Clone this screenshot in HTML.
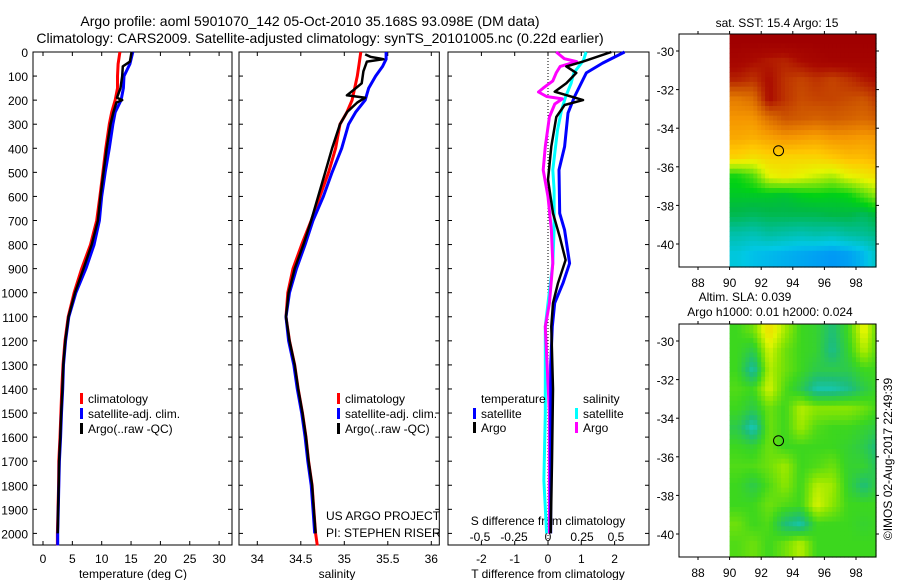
<!DOCTYPE html>
<html><head><meta charset="utf-8"><style>
body{margin:0;background:#fff;width:900px;height:580px;overflow:hidden}
svg{display:block;font-family:"Liberation Sans",sans-serif}
text{font-size:12px;fill:#000}
</style></head><body>
<svg id="chart" width="900" height="580" viewBox="0 0 900 580" xmlns="http://www.w3.org/2000/svg">
<text x="310" y="26" text-anchor="middle" style="font-size:14px">Argo profile: aoml 5901070_142 05-Oct-2010 35.168S 93.098E (DM data)</text>
<text x="320" y="43" text-anchor="middle" style="font-size:14px">Climatology: CARS2009. Satellite-adjusted climatology: synTS_20101005.nc (0.22d earlier)</text>
<g id="g"></g>
</svg>
<script>
// ---------- data ----------
const depthTicks=[0,100,200,300,400,500,600,700,800,900,1000,1100,1200,1300,1400,1500,1600,1700,1800,1900,2000];
const tempTicks=[0,5,10,15,20,25,30];
const salTicks=[34,34.5,35,35.5,36];
const tdiffTicks=[-2,-1,0,1,2];
const sdiffTicks=[-0.5,-0.25,0,0.25,0.5];
const sdiffTickLabels=["-0.5","-0.25","0","0.25","0.5"];

const tClimDepth=[0,50,100,150,200,250,300,400,500,600,700,800,900,1000,1100,1200,1300,1400,1500,1600,1700,1800,1900,2000,2050];
const tClim=[13.1,12.8,12.7,12.7,12.3,11.7,11.3,10.7,10.2,9.7,9.15,8.1,6.6,5.3,4.3,3.75,3.4,3.2,3.05,2.9,2.7,2.65,2.55,2.45,2.45];
const tSatDepth=[0,50,100,150,200,250,300,400,500,600,700,800,900,1000,1100,1200,1300,1400,1500,1600,1700,1800,1900,2000,2050];
const tSat=[15.3,14.8,13.8,13.7,13.3,12.3,11.9,11.3,10.6,10.0,9.6,8.7,7.3,5.6,4.4,3.85,3.5,3.35,3.15,3.0,2.8,2.7,2.6,2.5,2.5];
const tArgoDepth=[0,40,60,100,150,190,200,210,250,300,400,500,600,700,800,900,1000,1100,1200,1300,1400,1500,1600,1700,1800,1900,2000];
const tArgo=[15.1,14.8,13.6,13.5,13.2,12.6,13.5,12.5,12.0,11.5,10.85,10.3,9.8,9.35,8.3,6.9,5.45,4.35,3.8,3.45,3.3,3.1,2.95,2.75,2.68,2.58,2.5];

const sClimDepth=[0,50,100,150,200,250,300,400,500,600,700,800,900,1000,1100,1200,1300,1400,1500,1600,1700,1800,1900,2000,2050];
const sClim=[35.19,35.17,35.15,35.12,35.09,35.03,34.95,34.9,34.82,34.72,34.62,34.51,34.41,34.35,34.33,34.37,34.43,34.47,34.52,34.56,34.59,34.63,34.65,34.67,34.69];
const sSatDepth=[0,30,60,100,150,200,250,300,400,500,600,700,800,900,1000,1100,1200,1300,1400,1500,1600,1700,1800,1900,2000];
const sSat=[35.48,35.48,35.44,35.36,35.28,35.24,35.13,35.05,34.97,34.86,34.76,34.64,34.55,34.45,34.37,34.33,34.36,34.42,34.46,34.51,34.55,34.58,34.62,34.64,34.66];
const sArgoDepth=[10,20,30,40,80,130,160,180,190,210,250,300,400,500,600,700,800,900,1000,1100,1200,1300,1400,1500,1600,1700,1800,1900,2000];
const sArgo=[35.24,35.3,35.45,35.26,35.22,35.2,35.1,35.03,35.24,35.15,35.03,34.95,34.86,34.78,34.7,34.62,34.53,34.43,34.36,34.33,34.37,34.43,34.47,34.52,34.56,34.59,34.63,34.65,34.67];

const dTSatDepth=[0,46,87,185,254,393,490,670,740,878,960,1043,1141,1300,1600,2000];
const dTSat=[2.3,1.64,1.15,0.8,0.6,0.5,0.33,0.35,0.5,0.65,0.45,0.2,0.13,0.08,0.08,0.08];
const dTArgoDepth=[0,40,60,87,130,165,200,220,270,393,530,670,767,864,960,1043,1141,1400,1700,2000];
const dTArgo=[1.9,1.05,0.55,0.85,0.55,0.2,1.05,0.5,0.25,0.1,0,0.15,0.35,0.53,0.3,0.15,0.1,0.15,0.12,0.08];
const dSSatDepth=[0,35,87,130,185,240,325,490,573,740,878,1043,1141,1500,1780,2000];
const dSSat=[0.28,0.26,0.19,0.17,0.13,0.1,0.07,0.035,0.045,0.045,0.035,0,-0.02,-0.02,-0.03,-0.01];
const dSArgoDepth=[0,28,40,60,87,120,150,166,185,195,216,270,393,490,601,740,878,1043,1141,1500,2000];
const dSArgo=[0.06,0.12,0.21,0.09,0.06,0.035,-0.035,-0.07,-0.01,0.105,0.05,0.01,-0.02,-0.035,0,0.025,0.035,0.01,-0.02,0.01,0.01];

const mapLatTicks=[-30,-32,-34,-36,-38,-40];
const mapLonTicks=[88,90,92,94,96,98];
const gridLats=[-29,-30,-31,-32,-33,-34,-35,-36,-37,-38,-39,-40];
const gridLons=[90,91,92,93,94,95,96,97,98,99];
const sstGrid=[
[1,1,1,1,1,1,1,1,1,1],
[0.97,0.95,0.93,0.92,0.95,0.97,0.98,0.98,0.98,0.98],
[0.92,0.9,0.95,0.9,0.88,0.9,0.88,0.9,0.93,0.95],
[0.8,0.82,0.95,0.9,0.87,0.88,0.88,0.87,0.86,0.9],
[0.76,0.76,0.82,0.86,0.85,0.84,0.85,0.84,0.83,0.85],
[0.73,0.72,0.74,0.76,0.75,0.74,0.76,0.76,0.75,0.76],
[0.66,0.64,0.66,0.66,0.66,0.66,0.68,0.7,0.7,0.72],
[0.46,0.5,0.6,0.62,0.6,0.58,0.56,0.6,0.62,0.64],
[0.43,0.43,0.43,0.42,0.44,0.45,0.44,0.45,0.5,0.55],
[0.39,0.38,0.39,0.39,0.39,0.39,0.4,0.4,0.38,0.42],
[0.31,0.3,0.32,0.31,0.3,0.31,0.3,0.32,0.33,0.35],
[0.26,0.24,0.23,0.22,0.21,0.2,0.19,0.2,0.23,0.3]];
const slaGrid=[
[0.5,0.55,0.72,0.6,0.5,0.48,0.4,0.5,0.68,0.5],
[0.5,0.45,0.65,0.55,0.5,0.48,0.38,0.48,0.62,0.5],
[0.5,0.35,0.62,0.55,0.5,0.45,0.45,0.45,0.5,0.5],
[0.52,0.5,0.65,0.52,0.45,0.35,0.35,0.38,0.45,0.5],
[0.5,0.45,0.55,0.5,0.62,0.58,0.58,0.58,0.55,0.5],
[0.45,0.33,0.55,0.5,0.6,0.52,0.5,0.5,0.48,0.45],
[0.5,0.48,0.55,0.5,0.5,0.5,0.5,0.48,0.45,0.38],
[0.52,0.52,0.55,0.6,0.5,0.52,0.55,0.48,0.48,0.42],
[0.5,0.45,0.52,0.58,0.5,0.62,0.6,0.48,0.4,0.48],
[0.5,0.5,0.55,0.52,0.5,0.65,0.58,0.5,0.5,0.5],
[0.55,0.5,0.52,0.4,0.35,0.5,0.5,0.5,0.48,0.5],
[0.52,0.55,0.5,0.55,0.62,0.5,0.5,0.5,0.5,0.5]];
const argoLon=93.098, argoLat=-35.168;

// ---------- helpers ----------
const NS="http://www.w3.org/2000/svg";
const G=document.getElementById('g');
function mk(tag,attrs,parent){const e=document.createElementNS(NS,tag);for(const k in attrs)e.setAttribute(k,attrs[k]);(parent||G).appendChild(e);return e;}
function txt(x,y,s,anchor,parent){const t=mk('text',{x:x,y:y,'text-anchor':anchor||'start'},parent);t.textContent=s;return t;}
const yTop=52, yPer=0.2407;
const yD=d=>yTop+d*yPer;
const xT=v=>43+5.87*v;
const xS=v=>257.3+87*(v-34);
const xDT=v=>548+33.3*v;
const xDS=v=>548+136*v;

function panel(x0,x1,name){
  const r=mk('rect',{x:x0,y:yTop,width:x1-x0,height:545-yTop,fill:'none',stroke:'#000','stroke-width':1});
  
  
  depthTicks.forEach(d=>{mk('line',{x1:x0,x2:x0+4,y1:yD(d),y2:yD(d),stroke:'#000'});mk('line',{x1:x1,x2:x1-4,y1:yD(d),y2:yD(d),stroke:'#000'});});
}
function line(xs,ds,fx,color,name,w){
  const pts=xs.map((v,i)=>fx(v).toFixed(1)+','+yD(ds[i]).toFixed(1)).join(' ');
  const p=mk('polyline',{points:pts,fill:'none',stroke:color,'stroke-width':w||3,'stroke-linejoin':'round'});
  
  
}
function legendEntry(x,y,color,label,name){
  const g=mk('g',{});
  
  
  mk('rect',{x:x,y:y-10,width:3,height:11,fill:color},g);
  txt(x+8,y,label,'start',g);
}

depthTicks.forEach(d=>{const t=txt(28,yD(d)+5,String(d),'end');});

// panel 1
panel(33,232,'temperature-panel');
tempTicks.forEach(v=>{mk('line',{x1:xT(v),x2:xT(v),y1:545,y2:541,stroke:'#000'});mk('line',{x1:xT(v),x2:xT(v),y1:yTop,y2:yTop+4,stroke:'#000'});const t=txt(xT(v),563,String(v),'middle');});
txt(133,578,'temperature (deg C)','middle');
line(tClim,tClimDepth,xT,'#f00','temp-climatology-line');
line(tSat,tSatDepth,xT,'#00f','temp-satellite-line');
line(tArgo,tArgoDepth,xT,'#000','temp-argo-line',2.5);
legendEntry(80,403,'#f00','climatology','temp-legend-climatology');
legendEntry(80,418,'#00f','satellite-adj. clim.','temp-legend-satellite');
legendEntry(80,433,'#000','Argo(..raw -QC)','temp-legend-argo');

// panel 2
panel(239,439.3,'salinity-panel');
salTicks.forEach(v=>{mk('line',{x1:xS(v),x2:xS(v),y1:545,y2:541,stroke:'#000'});mk('line',{x1:xS(v),x2:xS(v),y1:yTop,y2:yTop+4,stroke:'#000'});const t=txt(xS(v),563,String(v),'middle');});
txt(337,578,'salinity','middle');
line(sClim,sClimDepth,xS,'#f00','sal-climatology-line');
line(sSat,sSatDepth,xS,'#00f','sal-satellite-line');
line(sArgo,sArgoDepth,xS,'#000','sal-argo-line',2.5);
legendEntry(337,403,'#f00','climatology','sal-legend-climatology');
legendEntry(337,418,'#00f','satellite-adj. clim.','sal-legend-satellite');
legendEntry(337,433,'#000','Argo(..raw -QC)','sal-legend-argo');
txt(326,520,'US ARGO PROJECT');
txt(326,537,'PI: STEPHEN RISER');

// panel 3
panel(448,649,'difference-panel');
mk('line',{x1:548,x2:548,y1:yTop,y2:545,stroke:'#000','stroke-dasharray':'1,2'});
tdiffTicks.forEach(v=>{mk('line',{x1:xDT(v),x2:xDT(v),y1:545,y2:541,stroke:'#000'});mk('line',{x1:xDT(v),x2:xDT(v),y1:yTop,y2:yTop+4,stroke:'#000'});const t=txt(xDT(v),563,String(v),'middle');});
sdiffTicks.forEach((v,i)=>{const t=txt(xDS(v),541,sdiffTickLabels[i],'middle');});
txt(548,578,'T difference from climatology','middle');
txt(548,525,'S difference from climatology','middle');
line(dSSat,dSSatDepth,xDS,'#0ff','sdiff-satellite-line');
line(dSArgo,dSArgoDepth,xDS,'#f0f','sdiff-argo-line');
line(dTSat,dTSatDepth,xDT,'#00f','tdiff-satellite-line');
line(dTArgo,dTArgoDepth,xDT,'#000','tdiff-argo-line',2.5);
txt(481,403,'temperature');
txt(583,403,'salinity');
legendEntry(473,418,'#00f','satellite','tdiff-legend-satellite');
legendEntry(473,432,'#000','Argo','tdiff-legend-argo');
legendEntry(575,418,'#0ff','satellite','sdiff-legend-satellite');
legendEntry(575,432,'#f0f','Argo','sdiff-legend-argo');

// ---------- maps ----------
function lerpColor(stops,v){
  if(v<=stops[0][0])return 'rgb('+stops[0][1].join(',')+')';
  for(let i=1;i<stops.length;i++){if(v<=stops[i][0]){const [a,ca]=stops[i-1],[b,cb]=stops[i];const t=(v-a)/(b-a);
    const c=ca.map((x,k)=>Math.round(x+(cb[k]-x)*t));return 'rgb('+c.join(',')+')';}}
  const c=stops[stops.length-1][1];return 'rgb('+c.join(',')+')';
}
const sstStops=[[0.15,[0,120,255]],[0.25,[0,200,230]],[0.33,[0,190,150]],[0.4,[0,185,70]],[0.45,[0,210,20]],[0.6,[230,245,0]],[0.68,[255,200,0]],[0.76,[245,150,0]],[0.86,[205,85,0]],[0.95,[170,10,0]],[1.0,[160,0,0]]];
const slaStops=[[0.33,[20,200,190]],[0.4,[30,190,120]],[0.5,[60,215,30]],[0.58,[140,230,0]],[0.66,[225,245,0]],[0.75,[245,210,0]]];
function sample(grid,fr,fc){
  const r0=Math.max(0,Math.min(grid.length-1,Math.floor(fr))),c0=Math.max(0,Math.min(grid[0].length-1,Math.floor(fc)));
  const r1=Math.min(grid.length-1,r0+1),c1=Math.min(grid[0].length-1,c0+1);
  const tr=Math.max(0,Math.min(1,fr-r0)),tc=Math.max(0,Math.min(1,fc-c0));
  return (grid[r0][c0]*(1-tc)+grid[r0][c1]*tc)*(1-tr)+(grid[r1][c0]*(1-tc)+grid[r1][c1]*tc)*tr;
}
function map(y0,grid,stops,name){
  const x0=679,x1=876,y1=y0+233;
  const lonX=l=>698+(l-88)*15.8;
  const latY=l=>y0+17+(-30-l)*19.3;
  const g=mk('g',{});
  
  
  const step=0.25, lonMax=99.4, latTop=-29.1, latBot=-41.1;
  for(let la=latTop;la>latBot-0.001;la-=step){
    for(let lo=gridLons[0];lo<lonMax;lo+=step){
      const fr=(gridLats[0]-(la-step/2))-0.5, fc=(lo+step/2-gridLons[0])-0.5;
      const v=sample(grid,fr,fc);
      const xa=lonX(lo),xb=Math.min(lonX(lo+step),x1);
      const ya=Math.max(latY(la),y0),yb=Math.min(latY(la-step),y1);
      if(yb>ya&&xb>xa)mk('rect',{x:xa.toFixed(1),y:ya.toFixed(1),width:(xb-xa+0.6).toFixed(1),height:(yb-ya+0.6).toFixed(1),fill:lerpColor(stops,v)},g);
    }
  }
  mk('rect',{x:x0,y:y0,width:x1-x0,height:y1-y0,fill:'none',stroke:'#000'},g);
  mapLatTicks.forEach(l=>{mk('line',{x1:x0-3,x2:x0,y1:latY(l),y2:latY(l),stroke:'#000'},g);mk('line',{x1:x1,x2:x1+3,y1:latY(l),y2:latY(l),stroke:'#000'},g);const t=txt(674,latY(l)+5,String(l),'end',g);});
  mapLonTicks.forEach(l=>{mk('line',{x1:lonX(l),x2:lonX(l),y1:y1,y2:y1+3,stroke:'#000'},g);mk('line',{x1:lonX(l),x2:lonX(l),y1:y0,y2:y0-3,stroke:'#000'},g);const t=txt(lonX(l),y1+20,String(l),'middle',g);});
  const c=mk('circle',{cx:lonX(argoLon),cy:latY(argoLat),r:5,fill:'none',stroke:'#000','stroke-width':1},g);
  
  
}
txt(777,27,'sat. SST: 15.4  Argo: 15','middle');
map(34,sstGrid,sstStops,'sst-map');
txt(745,301,'Altim. SLA: 0.039','middle');
txt(770,316,'Argo h1000: 0.01 h2000: 0.024','middle');
map(324,slaGrid,slaStops,'sla-map');
const cr=txt(0,0,'©IMOS 02-Aug-2017 22:49:39','middle');
cr.setAttribute('transform','translate(892,459) rotate(-90)');


</script>
</body></html>
